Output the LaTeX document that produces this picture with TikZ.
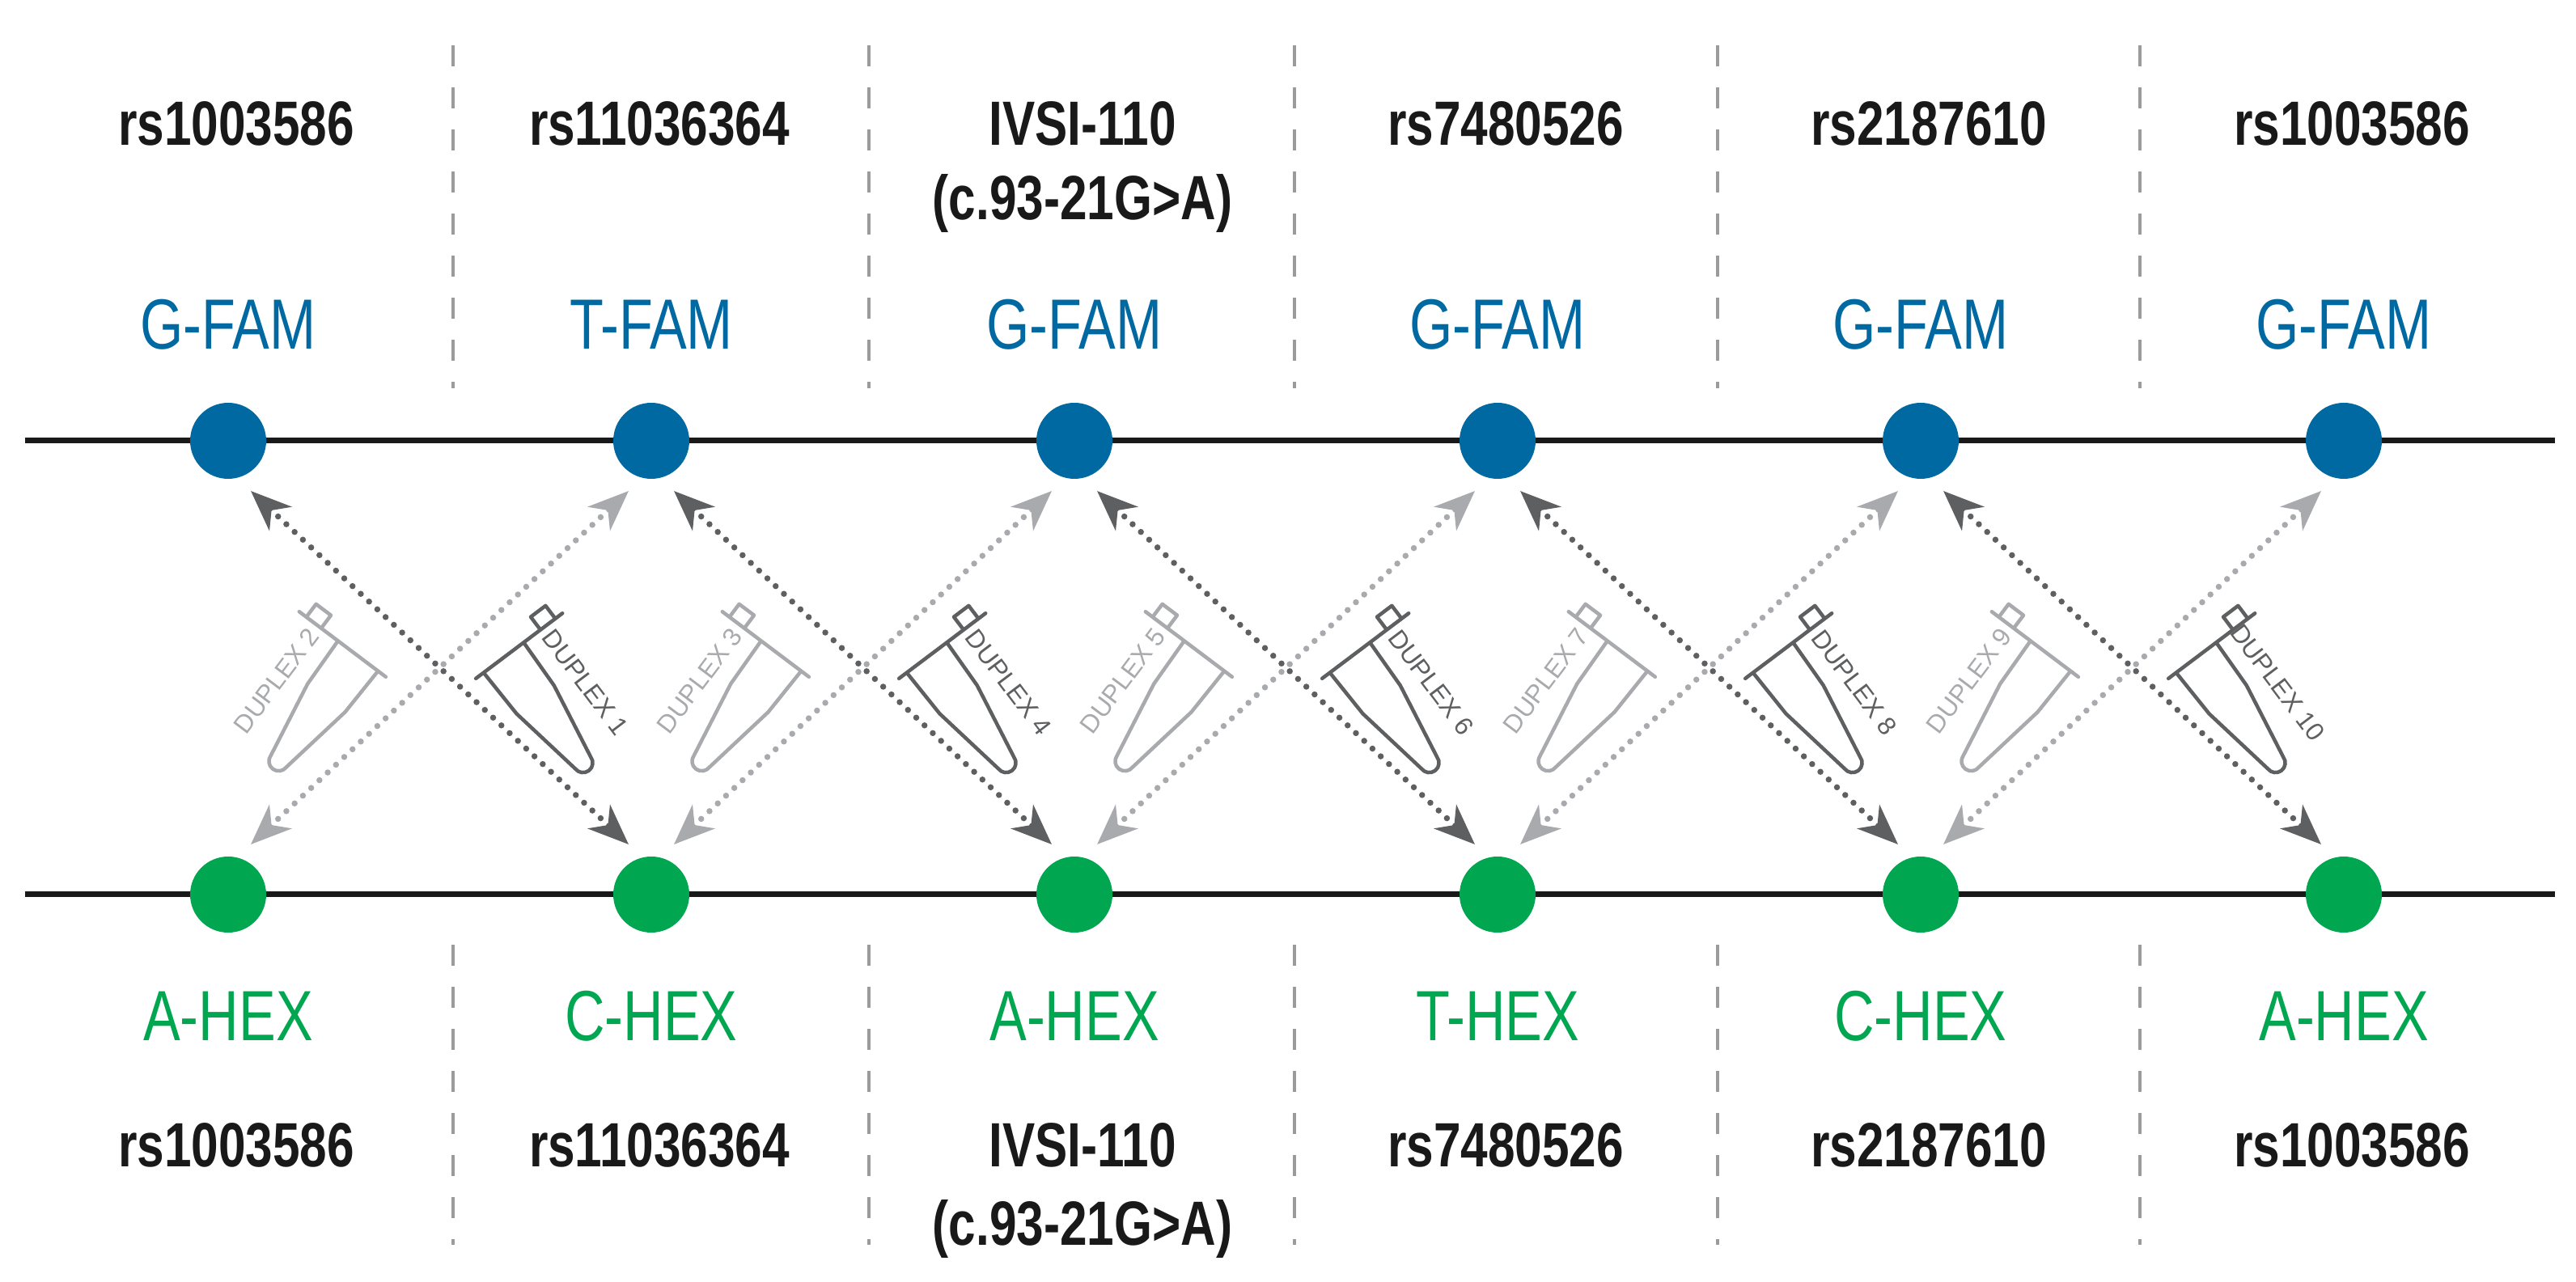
\documentclass[tikz,border=0pt]{standalone}
\usepackage{fontspec}
\setmainfont{Liberation Sans}[FakeStretch=0.78]
\newfontfamily\plainsans{Liberation Sans}
\usetikzlibrary{calc,arrows.meta}
\definecolor{famblue}{HTML}{0069A1}
\definecolor{hexgreen}{HTML}{00A650}
\definecolor{darkarr}{HTML}{5E5F61}
\definecolor{lightarr}{HTML}{A8AAAD}
\definecolor{dashgrey}{HTML}{9A9B9D}
\newcommand\duplexTube[7]{%
\begin{scope}[shift={(#1,#2)},rotate=#3]
 \draw[#6,line width=0.045cm,line join=round,line cap=round,xscale=#4]
   (-0.91,0)--(0.43,0)
   (-0.8,0)--(-0.8,0.2)--(-0.57,0.2)--(-0.57,0)
   (-0.31,0)--(-0.29,-0.65)--(-0.12,-1.63) arc(180:360:0.12)--(0.29,-0.65)--(0.31,0);
 \node[#6,font=\plainsans\fontsize{9}{10}\selectfont,rotate={#3+90*(#4)},inner sep=0pt] (#7) at ({-0.62*(#4)},-0.85) {#5};
\end{scope}}
\begin{document}
\begin{tikzpicture}[
  rsl/.style={font=\bfseries\fontsize{22}{26}\selectfont,align=center,anchor=north,inner sep=0pt,text=black!90},
  faml/.style={font=\fontsize{25}{30}\selectfont,anchor=base,text=famblue},
  hexl/.style={font=\fontsize{25}{30}\selectfont,anchor=base,text=hexgreen},
  topdot/.style={circle,fill=famblue,minimum size=0.94cm,inner sep=0pt},
  botdot/.style={circle,fill=hexgreen,minimum size=0.94cm,inner sep=0pt},
  sep/.style={dashgrey,line width=0.04cm,dash pattern=on 0.26cm off 0.26cm},
  arr/.style={line width=0.075cm,line cap=round,dash pattern=on 0pt off 0.14cm,
     {Stealth[length=0.5cm,width=0.4cm,inset=0.15cm]}-{Stealth[length=0.5cm,width=0.4cm,inset=0.15cm]}},
]
\useasboundingbox (0,0) rectangle (31.84,15.85);
% strands
\coordinate (la) at (0.31,10.40); \coordinate (lb) at (31.58,10.40);
\coordinate (lc) at (0.31,4.79); \coordinate (ld) at (31.58,4.79);
\draw[line width=0.07cm,black!90] (la)--(lb);
\draw[line width=0.07cm,black!90] (lc)--(ld);
% separators
\foreach \x [count=\i] in {5.60,10.74,16.00,21.23,26.45}{
  \coordinate (sa\i) at (\x,15.29); \coordinate (sb\i) at (\x,11.05);
  \coordinate (sc\i) at (\x,4.17); \coordinate (sd\i) at (\x,0.46);
  \draw[sep] (sa\i)--(sb\i);
  \draw[sep] (sc\i)--(sd\i);
}
% dots and labels
\foreach \x/\f/\h/\r [count=\i] in {
  2.82/G-FAM/A-HEX/rs1003586,
  8.05/T-FAM/C-HEX/rs11036364,
  13.28/G-FAM/A-HEX/{IVSI-110\\(c.93-21G>A)},
  18.51/G-FAM/T-HEX/rs7480526,
  23.74/G-FAM/C-HEX/rs2187610,
  28.97/G-FAM/A-HEX/rs1003586}{
  \node[topdot] (t\i) at (\x,10.40) {};
  \node[botdot] (b\i) at (\x,4.79) {};
  \node[faml] (tf\i) at (\x,11.53) {\f};
  \node[hexl] (bh\i) at (\x,2.98) {\h};
  \node[rsl] (tr\i) at (\x+0.1,14.60) {\r};
  \node[rsl,font=\bfseries\fontsize{22}{27.5}\selectfont] (br\i) at (\x+0.1,1.97) {\r};
}
% arrows
\foreach \i [evaluate=\i as \j using int(\i+1)] in {1,...,5}{
  \draw[arr,darkarr] ($(t\i)+(0.28,-0.62)$) -- ($(b\j)+(-0.28,0.62)$);
  \draw[arr,lightarr] ($(b\i)+(0.28,0.62)$) -- ($(t\j)+(-0.28,-0.62)$);
}
% tubes
\foreach \i/\L/\D in {1/2/1,2/3/4,3/5/6,4/7/8,5/9/10}{
  \pgfmathsetmacro\cx{2.82+5.23*(\i-0.5)}
  \duplexTube{\cx-1.01}{7.74}{-37}{1}{DUPLEX \L}{lightarr}{dl\i}
  \duplexTube{\cx+0.79}{7.72}{37}{-1}{DUPLEX \D}{darkarr}{dd\i}
}
\end{tikzpicture}
\end{document}
